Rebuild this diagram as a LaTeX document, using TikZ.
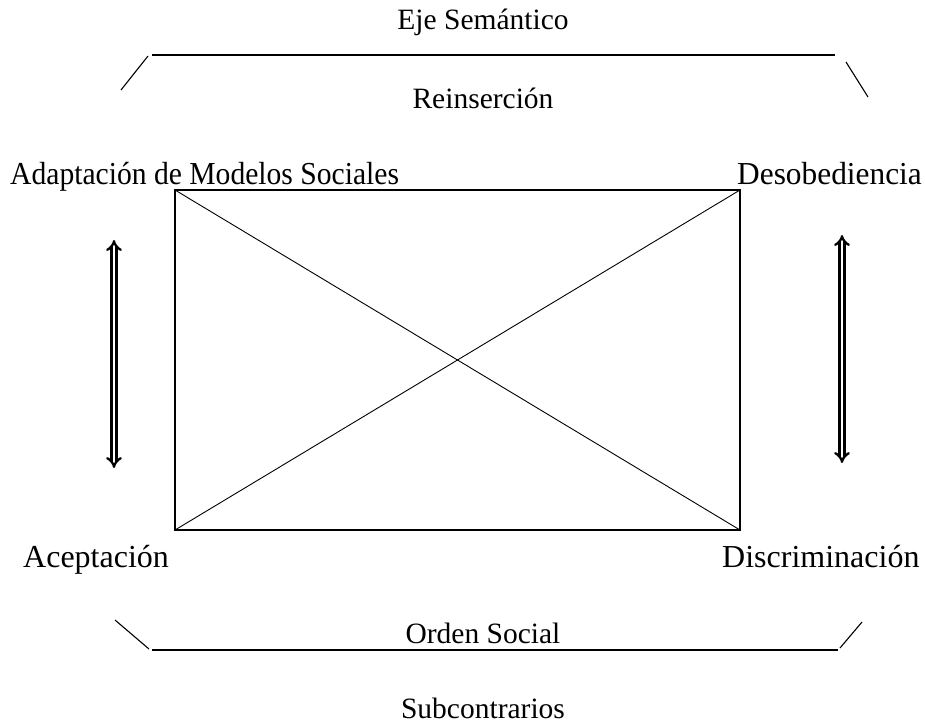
\documentclass[tikz,border=0pt]{standalone}
\usepackage{fontspec}
\setmainfont{Liberation Serif}
\usetikzlibrary{arrows.meta}

\begin{document}
\begin{tikzpicture}[x=1pt,y=-1pt,
	lbl/.style={inner sep=0pt,font=\fontsize{29.5}{34}\selectfont},
	side/.style={inner sep=0pt,font=\fontsize{32}{36}\selectfont},
	brace/.style={line width=1.1pt},
	dbl/.style={double,double distance=2.8pt,line width=2.3pt,{Implies[length=9pt,width=16pt]}-{Implies[length=9pt,width=16pt]}}]
\useasboundingbox (0,0) rectangle (925,723);
	\node[lbl] at (483,22) (eje) {Eje Semántico};
	\node[lbl] at (483,98) (rein) {Reinserción};
	\node[side,anchor=base west] at (10,184) (adap) {\scalebox{0.925}[1]{Adaptación de Modelos Sociales}};
	\node[side,anchor=base west] at (737,184) (deso) {\scalebox{0.98}[1]{Desobediencia}};
	\node[side,anchor=base west] at (23,567) (acep) {Aceptación};
	\node[side,anchor=base west] at (722,567) (disc) {Discriminación};
	\node[lbl] at (483,633) (orden) {Orden Social};
	\node[lbl] at (483,708) (sub) {Subcontrarios};
	% cuadrado
	\coordinate (a) at (175,190);
	\coordinate (b) at (740,190);
	\coordinate (c) at (740,530);
	\coordinate (d) at (175,530);
	\draw[line width=2pt] (a) -- (b) -- (c) -- (d) -- cycle;
	\draw[line width=0.9pt] (a) -- (c);
	\draw[line width=0.9pt] (b) -- (d);
	% ejes
	\coordinate (t1) at (121,90);
	\coordinate (t2) at (148,56);
	\coordinate (t3) at (152,55);
	\coordinate (t4) at (835,55);
	\coordinate (t5) at (846,62);
	\coordinate (t6) at (868,97);
	\draw[brace] (t1) -- (t2);
	\draw[brace] (t3) -- (t4);
	\draw[brace] (t5) -- (t6);
	\coordinate (u1) at (115,620);
	\coordinate (u2) at (149,649);
	\coordinate (u3) at (152,650);
	\coordinate (u4) at (838,650);
	\coordinate (u5) at (840,648);
	\coordinate (u6) at (862,622);
	\draw[brace] (u1) -- (u2);
	\draw[brace] (u3) -- (u4);
	\draw[brace] (u5) -- (u6);
	% flechas
	\coordinate (l1) at (114,240);
	\coordinate (l2) at (114,468);
	\coordinate (r1) at (842,235);
	\coordinate (r2) at (842,463);
	\draw[dbl] (l1) -- (l2);
	\draw[dbl] (r1) -- (r2);
\end{tikzpicture}
\end{document}
